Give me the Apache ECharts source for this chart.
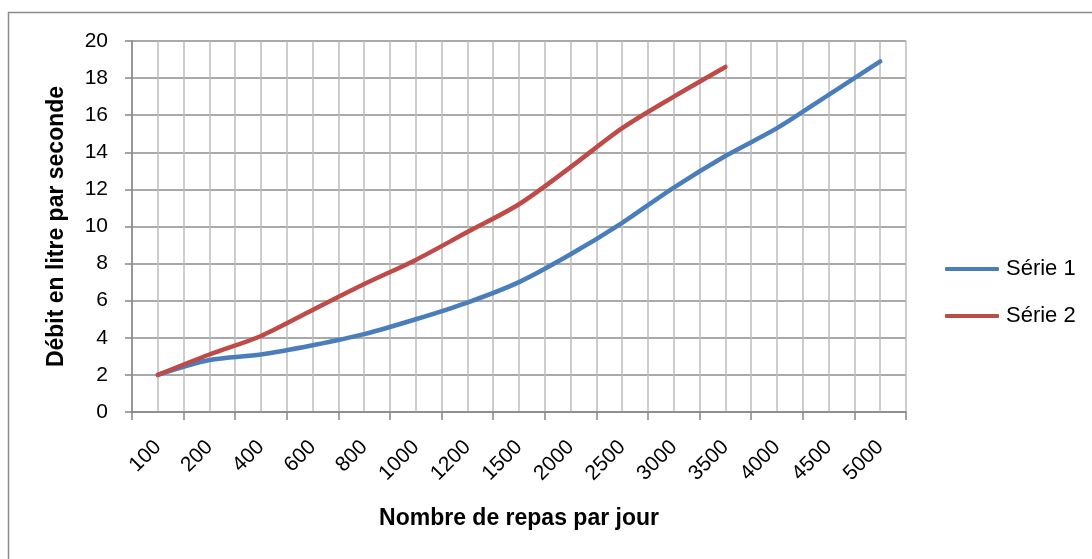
<!DOCTYPE html>
<html>
<head>
<meta charset="utf-8">
<script src="https://cdn.jsdelivr.net/npm/echarts@6/dist/echarts.min.js"></script>
<style>
  html, body { margin: 0; padding: 0; background: #fff; }
  #chart { width: 1092px; height: 559px; }
</style>
</head>
<body>
<div id="chart"></div>
<script>
// repas par jour (catégories)
var repas = ['100', '200', '400', '600', '800', '1000', '1200', '1500', '2000', '2500', '3000', '3500', '4000', '4500', '5000'];
// débit en l/s
var serie1 = [2.0, 2.8, 3.1, 3.6, 4.2, 5.0, 5.9, 7.0, 8.5, 10.2, 12.1, 13.8, 15.3, 17.1, 18.9];
var serie2 = [2.0, 3.1, 4.1, 5.5, 6.9, 8.2, 9.7, 11.2, 13.2, 15.3, 17.0, 18.6];
// demi-pas pour le quadrillage vertical
var demiPas = [];
for (var i = 0; i < repas.length * 2; i++) demiPas.push('');

var FONT = '"Liberation Sans", Arial, sans-serif';
var chart = echarts.init(document.getElementById('chart'));

chart.setOption({
    animation: false,
    color: ['#4a7ebb', '#be4b48'],
    graphic: [{
        type: 'rect',
        shape: { x: 8.5, y: 12.5, width: 1200, height: 700 },
        style: { fill: 'none', stroke: '#8c8c8c', lineWidth: 1.5 },
        silent: true
    }],
    grid: { left: 132, right: 186, top: 41, bottom: 147 },
    legend: {
        orient: 'vertical',
        left: 940,
        top: 253,
        itemWidth: 54,
        itemHeight: 4,
        itemGap: 25,
        icon: 'roundRect',
        textStyle: { fontFamily: FONT, fontSize: 22, color: '#000', padding: [0, 0, 0, 2] },
        data: ['Série 1', 'Série 2']
    },
    xAxis: [{
        type: 'category',
        data: repas,
        boundaryGap: true,
        name: 'Nombre de repas par jour',
        nameLocation: 'middle',
        nameGap: 95,
        nameMoveOverlap: false,
        nameTextStyle: { fontFamily: FONT, fontSize: 23, fontWeight: 'bold', color: '#000' },
        axisLine: { lineStyle: { color: '#868686', width: 1.5 } },
        axisTick: { show: true, length: 8, interval: 0, lineStyle: { color: '#868686', width: 1.5 } },
        axisLabel: { rotate: 45, interval: 0, fontFamily: FONT, fontSize: 21, color: '#000', margin: 32 },
        splitLine: { show: false }
    }, {
        type: 'category',
        data: demiPas,
        position: 'bottom',
        boundaryGap: true,
        axisLine: { show: false },
        axisTick: { show: false },
        axisLabel: { show: false },
        splitLine: { show: true, interval: 0, lineStyle: { color: '#bdbdbd', width: 1.5 } }
    }],
    yAxis: {
        type: 'value',
        min: 0,
        max: 20,
        interval: 2,
        name: 'Débit en litre par seconde',
        nameLocation: 'middle',
        nameGap: 64,
        nameMoveOverlap: false,
        nameTextStyle: { fontFamily: FONT, fontSize: 23, fontWeight: 'bold', color: '#000' },
        axisLine: { show: true, lineStyle: { color: '#868686', width: 1.5 } },
        axisTick: { show: true, length: 7, lineStyle: { color: '#868686', width: 1.5 } },
        axisLabel: { fontFamily: FONT, fontSize: 21, color: '#000', margin: 24 },
        splitLine: { show: true, lineStyle: { color: '#8c8c8c', width: 1.5 } }
    },
    series: [{
        name: 'Série 1',
        type: 'line',
        data: serie1,
        smooth: 0.3,
        showSymbol: false,
        lineStyle: { width: 4.5, cap: 'round' }
    }, {
        name: 'Série 2',
        type: 'line',
        data: serie2,
        smooth: 0.3,
        showSymbol: false,
        lineStyle: { width: 4.5, cap: 'round' }
    }]
});
</script>
</body>
</html>
